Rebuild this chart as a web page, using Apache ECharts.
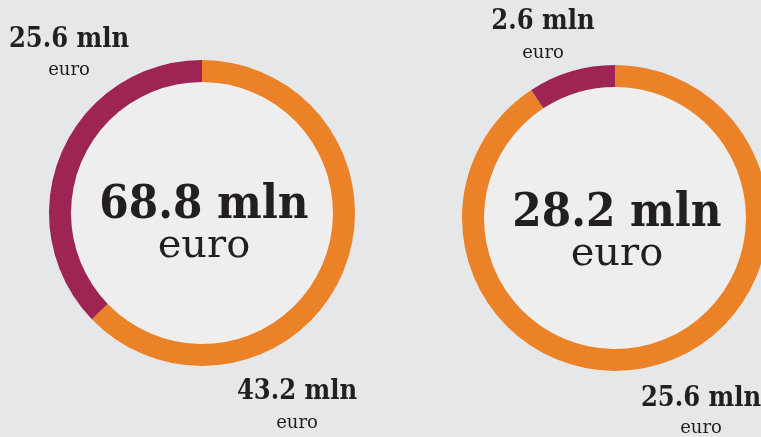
<!DOCTYPE html>
<html>
<head>
<meta charset="utf-8">
<script src="https://cdn.jsdelivr.net/npm/echarts@6/dist/echarts.min.js"></script>
<style>
  html, body { margin: 0; padding: 0; background: #e6e7e9; }
  #chart { width: 761px; height: 437px; }
</style>
</head>
<body>
<div id="chart"></div>
<script>
// data
var sliceNames = ['rest', 'part'];
var leftValues = [43.2, 25.6];
var rightValues = [25.6, 2.6];
var unitText = 'mln';
var currencyText = 'euro';

var colors = ['#ec8227', '#9e2454'];
var ink = '#231f20';
var boldFont = '"DejaVu Serif Condensed", "DejaVu Serif", serif';
var plainFont = '"DejaVu Serif", serif';

function total(arr) {
  return Math.round(arr.reduce(function (a, b) { return a + b; }, 0) * 10) / 10;
}

function donut(values, cx, cy) {
  return [
    {
      type: 'pie',
      silent: true,
      center: [cx, cy],
      radius: [0, 131],
      label: { show: false },
      itemStyle: { color: '#eeeeee' },
      data: [{ value: 1 }]
    },
    {
      type: 'pie',
      silent: true,
      center: [cx, cy],
      radius: [131, 153],
      startAngle: 90,
      clockwise: true,
      label: { show: false },
      labelLine: { show: false },
      data: values.map(function (v, i) {
        return { name: sliceNames[i], value: v, itemStyle: { color: colors[i] } };
      })
    }
  ];
}

function label(value, x, y, big, small, gap) {
  return [
    {
      type: 'text', x: x, y: y, z: 100,
      style: { text: value + ' ' + unitText, font: 'bold ' + big + 'px ' + boldFont, fill: ink, align: 'center', verticalAlign: 'middle' }
    },
    {
      type: 'text', x: x, y: y + gap, z: 100,
      style: { text: currencyText, font: small + 'px ' + plainFont, fill: ink, align: 'center', verticalAlign: 'middle' }
    }
  ];
}

var chart = echarts.init(document.getElementById('chart'));
chart.setOption({
  backgroundColor: '#e6e7e9',
  animation: false,
  series: donut(leftValues, 202, 213).concat(donut(rightValues, 615, 218)),
  graphic: []
    .concat(label(total(leftValues), 204, 206, 47, 40, 41))
    .concat(label(total(rightValues), 617, 214, 47, 40, 41))
    .concat(label(leftValues[1], 69, 40, 27, 18, 30))
    .concat(label(leftValues[0], 297, 392, 27, 18, 31))
    .concat(label(rightValues[1], 543, 22, 27, 18, 31))
    .concat(label(rightValues[0], 701, 399, 27, 18, 29))
});
</script>
</body>
</html>
